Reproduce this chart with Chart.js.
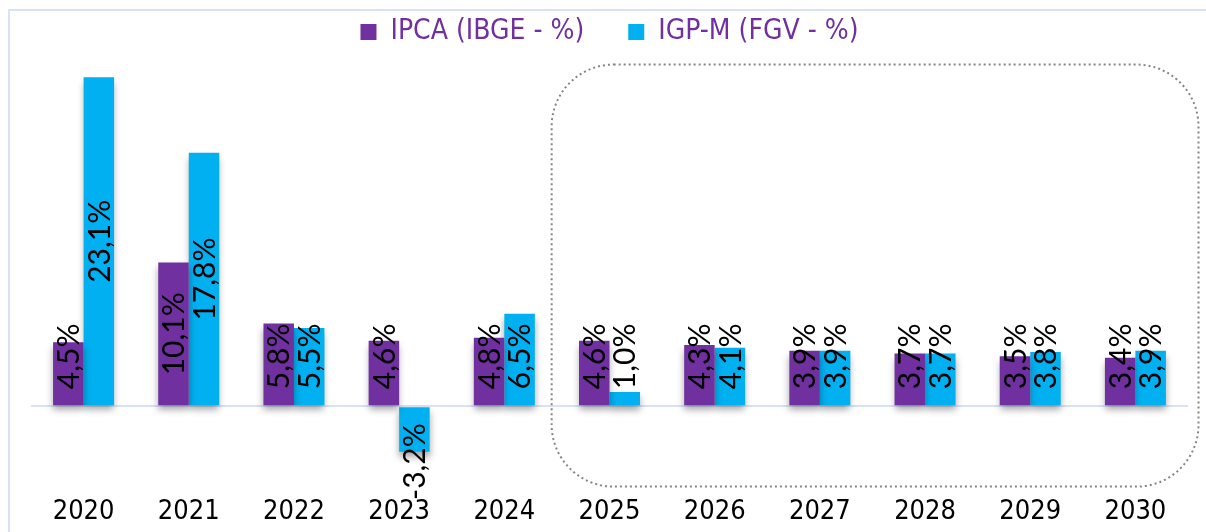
<!DOCTYPE html>
<html>
<head>
<meta charset="utf-8">
<script src="https://cdn.jsdelivr.net/npm/chart.js@4/dist/chart.umd.min.js"></script>
<style>
  body { margin: 0; background: #fff; }
  canvas { display: block; }
</style>
</head>
<body>
<canvas id="chart" width="1206" height="532"></canvas>
<script>
// Chart data
const years = ['2020', '2021', '2022', '2023', '2024', '2025', '2026', '2027', '2028', '2029', '2030'];
const ipca = [4.5, 10.1, 5.8, 4.6, 4.8, 4.6, 4.3, 3.9, 3.7, 3.5, 3.4];
const igpm = [23.1, 17.8, 5.5, -3.2, 6.5, 1.0, 4.1, 3.9, 3.7, 3.8, 3.9];
const seriesNames = ['IPCA (IBGE - %)', 'IGP-M (FGV - %)'];

const PURPLE = '#7030A0';
const CYAN = '#00B0F0';
const LEGEND_FONT = '"DejaVu Sans Condensed", "DejaVu Sans", sans-serif';
const LABEL_FONT = 'Lato, "Open Sans", sans-serif';

function fmt(v) {
    return v.toFixed(1).replace('.', ',') + '%';
}

// Outer frame of the chart (only top/left visible)
const framePlugin = {
    id: 'frame',
    beforeDraw(chart) {
        const ctx = chart.ctx;
        ctx.save();
        ctx.strokeStyle = '#D7E3F5';
        ctx.lineWidth = 2;
        ctx.strokeRect(9, 10, 1300, 600);
        ctx.restore();
    }
};

// Soft shadow under the bars
const shadowPlugin = {
    id: 'barShadow',
    beforeDatasetsDraw(chart) {
        const ctx = chart.ctx;
        ctx.save();
        ctx.shadowColor = 'rgba(0,0,0,0.35)';
        ctx.shadowBlur = 7;
        ctx.shadowOffsetX = 0;
        ctx.shadowOffsetY = 5;
    },
    afterDatasetsDraw(chart) {
        chart.ctx.restore();
    }
};

// Rotated value labels inside the bars
const labelPlugin = {
    id: 'valueLabels',
    afterDatasetsDraw(chart) {
        const ctx = chart.ctx;
        const zeroY = chart.scales.y.getPixelForValue(0);
        ctx.save();
        ctx.font = '30px ' + LABEL_FONT;
        ctx.fillStyle = '#000';
        ctx.textAlign = 'center';
        ctx.textBaseline = 'middle';
        chart.data.datasets.forEach((ds, i) => {
            const meta = chart.getDatasetMeta(i);
            meta.data.forEach((bar, j) => {
                const v = ds.data[j];
                const text = fmt(v);
                const w = ctx.measureText(text).width;
                let cy = (bar.y + bar.base) / 2;
                if (v >= 0) cy = Math.min(cy, zeroY - 17 - w / 2);
                else cy = Math.max(cy, zeroY + 17 + w / 2);
                ctx.save();
                ctx.translate(bar.x + 1, cy);
                ctx.rotate(-Math.PI / 2);
                ctx.fillText(text, 0, 0);
                ctx.restore();
            });
        });
        ctx.restore();
    }
};

// Dotted rounded box around the projection years
const boxPlugin = {
    id: 'forecastBox',
    afterDraw(chart) {
        const x = chart.scales.x, y = chart.scales.y;
        const step = x.getPixelForValue(1) - x.getPixelForValue(0);
        const left = x.getPixelForValue(5) - step * 0.55;
        const right = x.getPixelForValue(10) + step * 0.6;
        const top = y.getPixelForValue(24);
        const bottom = y.getPixelForValue(-5.65);
        const ctx = chart.ctx;
        ctx.save();
        ctx.strokeStyle = '#858585';
        ctx.lineWidth = 2;
        ctx.setLineDash([2, 3]);
        ctx.beginPath();
        ctx.roundRect(left, top, right - left, bottom - top, 62);
        ctx.stroke();
        ctx.restore();
    }
};

new Chart(document.getElementById('chart').getContext('2d'), {
    type: 'bar',
    data: {
        labels: years,
        datasets: [
            { label: seriesNames[0], data: ipca, backgroundColor: PURPLE },
            { label: seriesNames[1], data: igpm, backgroundColor: CYAN }
        ]
    },
    options: {
        responsive: false,
        animation: false,
        layout: { padding: { left: 31, right: 18, top: -26, bottom: 0 } },
        datasets: {
            bar: { categoryPercentage: 0.58, barPercentage: 1.0 }
        },
        scales: {
            x: {
                grid: { display: false, drawTicks: false },
                border: { display: false },
                ticks: {
                    color: '#000',
                    padding: 4,
                    font: { family: LEGEND_FONT, size: 27 }
                }
            },
            y: {
                min: -6,
                max: 24.6,
                ticks: { display: false, stepSize: 6 },
                border: { display: false },
                grid: {
                    drawTicks: false,
                    lineWidth: 2,
                    color: c => c.tick.value === 0 ? '#D7E3F5' : 'transparent'
                }
            }
        },
        plugins: {
            legend: {
                position: 'top',
                labels: {
                    color: PURPLE,
                    boxWidth: 16,
                    boxHeight: 16,
                    padding: 44,
                    font: { family: LEGEND_FONT, size: 28 }
                }
            },
            tooltip: { enabled: false }
        }
    },
    plugins: [framePlugin, shadowPlugin, labelPlugin, boxPlugin]
});
</script>
</body>
</html>
